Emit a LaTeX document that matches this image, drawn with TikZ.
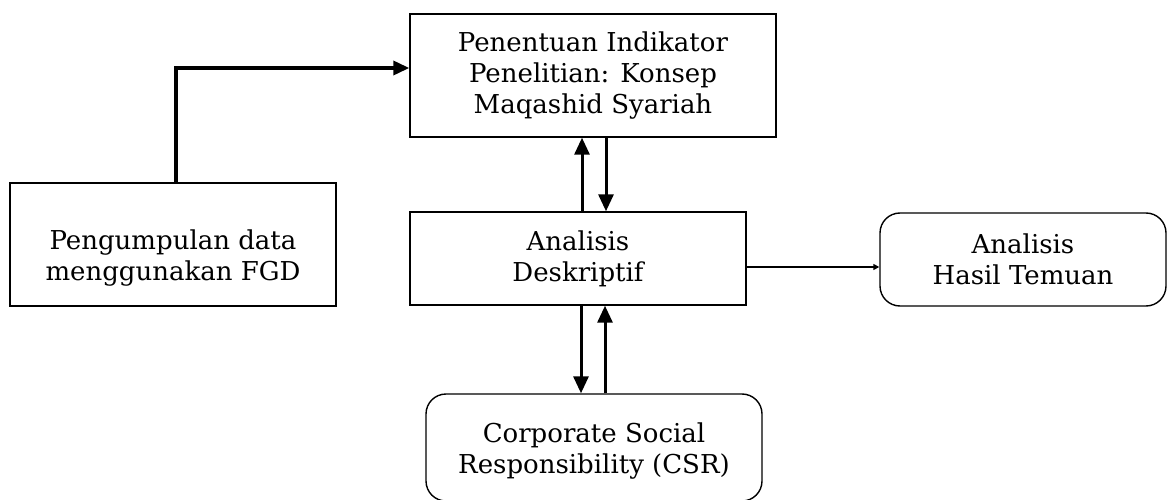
\documentclass[tikz,border=0pt]{standalone}
\usepackage{fontspec}
\setmainfont{DejaVu Serif}
\usetikzlibrary{arrows.meta}
\begin{document}
\begin{tikzpicture}[x=1pt,y=-1pt,
  box/.style={draw,line width=1.4pt,inner sep=0pt,align=center,font=\fontsize{26}{31}\selectfont},
  rbox/.style={box,rounded corners=20pt},
  txt/.style={inner sep=0pt,align=center,font=\fontsize{26}{31}\selectfont},
  arr/.style={line width=3pt,-{Triangle[length=17pt,width=15pt]}},
  thin arr/.style={line width=1.8pt,-{Triangle[length=6pt,width=6pt]}}]
\useasboundingbox (0,0) rectangle (1168,500);
\node[box,minimum width=366pt,minimum height=123pt] (top) at (593,75.5) {Penentuan Indikator\\Penelitian: Konsep\\Maqashid Syariah};
\node[box,minimum width=326pt,minimum height=123pt] (left) at (173,244.5) {};
\node[txt] (lefttxt) at (173,258) {Pengumpulan data\\menggunakan FGD};
\node[box,minimum width=336pt,minimum height=93pt] (mid) at (578,258.5) {Analisis\\Deskriptif};
\node[rbox,minimum width=286pt,minimum height=93pt] (right) at (1023,259.5) {Analisis\\Hasil Temuan};
\node[rbox,minimum width=336pt,minimum height=107pt] (bot) at (594,447.5) {};
\node[txt] (bottxt) at (594,451) {Corporate Social\\Responsibility (CSR)};
\coordinate (c1) at (176,68);
\draw[line width=3.5pt,-{Triangle[length=16pt,width=14pt]}] (left.north -| c1) -- (c1) -- (c1 -| top.west);
\draw[arr] (mid.north -| 582,0) -- (top.south -| 582,0);
\draw[arr] (top.south -| 606,0) -- (mid.north -| 606,0);
\draw[arr] (mid.south -| 581,0) -- (bot.north -| 581,0);
\draw[arr] (bot.north -| 605,0) -- (mid.south -| 605,0);
\draw[thin arr] (mid.east |- 0,267) -- (right.west |- 0,267);
\end{tikzpicture}
\end{document}
